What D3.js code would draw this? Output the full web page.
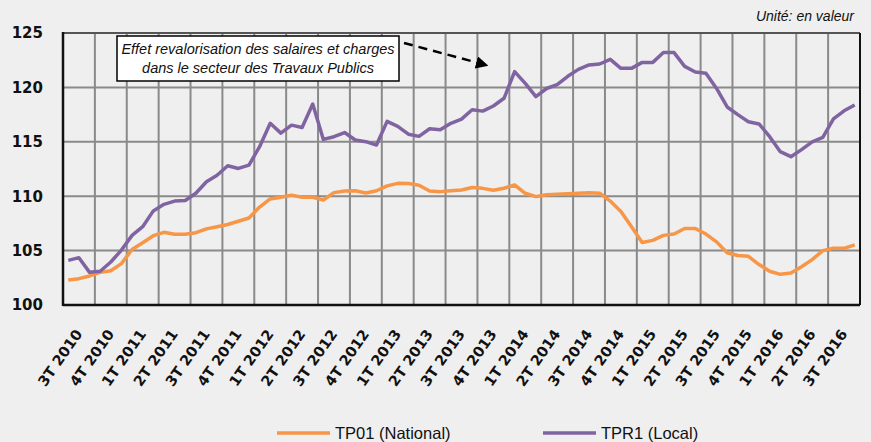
<!DOCTYPE html>
<html>
<head>
<meta charset="utf-8">
<script src="https://cdn.jsdelivr.net/npm/d3@7"></script>
<style>
  body { margin: 0; background: #efefef; }
  svg { display: block; }
  .ylab text { font-family: "DejaVu Sans", sans-serif; font-weight: bold; font-size: 15px; fill: #111; }
  .xlab { font-family: "DejaVu Sans", sans-serif; font-weight: bold; font-size: 14.5px; fill: #111; }
</style>
</head>
<body>
<svg width="871" height="442"></svg>
<script>
// quarter labels (one label every 3 months)
var quarters = ["3T 2010","4T 2010","1T 2011","2T 2011","3T 2011","4T 2011",
  "1T 2012","2T 2012","3T 2012","4T 2012","1T 2013","2T 2013","3T 2013","4T 2013",
  "1T 2014","2T 2014","3T 2014","4T 2014","1T 2015","2T 2015","3T 2015","4T 2015",
  "1T 2016","2T 2016","3T 2016"];

// monthly values
var tp01 = [102.3,102.42,102.67,103.0,103.15,103.8,105.1,105.73,106.37,106.68,
  106.5,106.5,106.65,107.0,107.2,107.4,107.7,108.0,109.0,109.75,
  109.9,110.1,109.9,109.9,109.65,110.33,110.48,110.5,110.3,110.5,
  110.95,111.18,111.16,111.0,110.48,110.42,110.5,110.57,110.8,110.72,
  110.55,110.73,111.03,110.27,109.96,110.13,110.17,110.23,110.28,110.32,
  110.27,109.55,108.6,107.2,105.75,105.94,106.4,106.53,107.03,107.03,
  106.52,105.8,104.8,104.55,104.47,103.72,103.1,102.82,102.94,103.52,
  104.17,105.0,105.21,105.21,105.53];

var tpr1 = [104.1,104.35,103.0,103.1,103.95,105.05,106.4,107.2,108.65,109.25,
  109.55,109.6,110.27,111.33,111.93,112.8,112.55,112.86,114.55,116.7,
  115.8,116.53,116.32,118.47,115.22,115.47,115.85,115.17,115.01,114.7,
  116.88,116.42,115.7,115.5,116.2,116.1,116.7,117.08,117.95,117.82,
  118.29,119.0,121.45,120.37,119.15,119.9,120.26,121.02,121.66,122.06,
  122.15,122.58,121.75,121.75,122.3,122.3,123.2,123.2,121.93,121.42,
  121.3,119.9,118.2,117.5,116.85,116.64,115.47,114.09,113.63,114.28,
  115.0,115.41,117.1,117.85,118.38];

var yTicks = [100, 105, 110, 115, 120, 125];

var svg = d3.select("svg"),
    margin = {top: 33, right: 11, bottom: 137, left: 63},
    width = +svg.attr("width") - margin.left - margin.right,
    height = +svg.attr("height") - margin.top - margin.bottom;

var months = d3.range(tp01.length);

var x = d3.scaleBand().domain(months).range([margin.left, margin.left + width]),
    y = d3.scaleLinear().domain([100, 125]).range([margin.top + height, margin.top]);

function xc(i) { return x(i) + x.bandwidth() / 2; }

// grid
var grid = svg.append("g");
grid.selectAll(".hg")
  .data(yTicks.filter(function(d) { return d > 100 && d < 125; }))
  .enter().append("line")
  .attr("x1", margin.left).attr("x2", margin.left + width)
  .attr("y1", function(d) { return y(d); }).attr("y2", function(d) { return y(d); })
  .attr("stroke", "#8a8a8a").attr("stroke-width", 2);

grid.selectAll(".vg")
  .data(d3.range(1, quarters.length))
  .enter().append("line")
  .attr("x1", function(k) { return x(k * 3); }).attr("x2", function(k) { return x(k * 3); })
  .attr("y1", y(125)).attr("y2", y(100))
  .attr("stroke", "#8a8a8a").attr("stroke-width", 2);

// frame
svg.append("line").attr("x1", margin.left).attr("x2", margin.left + width)
  .attr("y1", y(125)).attr("y2", y(125)).attr("stroke", "#555").attr("stroke-width", 2);
svg.append("line").attr("x1", margin.left + width).attr("x2", margin.left + width)
  .attr("y1", y(125)).attr("y2", y(100)).attr("stroke", "#111").attr("stroke-width", 2);
svg.append("line").attr("x1", margin.left).attr("x2", margin.left)
  .attr("y1", y(125) - 1).attr("y2", y(100) + 1).attr("stroke", "#111").attr("stroke-width", 2.5);
svg.append("line").attr("x1", margin.left).attr("x2", margin.left + width)
  .attr("y1", y(100)).attr("y2", y(100)).attr("stroke", "#111").attr("stroke-width", 2.5);

// y axis labels
var yAxis = svg.append("g")
  .attr("class", "ylab")
  .attr("transform", "translate(" + margin.left + ",0)")
  .call(d3.axisLeft(y).tickValues(yTicks).tickSize(0).tickPadding(20));
yAxis.select(".domain").remove();

// x axis labels, rotated
svg.append("g").selectAll("text")
  .data(quarters)
  .enter().append("text")
  .attr("class", "xlab")
  .attr("text-anchor", "end")
  .attr("transform", function(d, k) {
    var cx = (x(k * 3) + x(k * 3 + 2) + x.bandwidth()) / 2;
    return "translate(" + (cx + 4) + "," + (y(100) + 29) + ") rotate(-55)";
  })
  .text(function(d) { return d; });

// lines
var line = d3.line()
  .x(function(d, i) { return xc(i); })
  .y(function(d) { return y(d); });

svg.append("path").datum(tp01)
  .attr("fill", "none").attr("stroke", "#f79646").attr("stroke-width", 3.5)
  .attr("stroke-linejoin", "round").attr("d", line);

svg.append("path").datum(tpr1)
  .attr("fill", "none").attr("stroke", "#8064a2").attr("stroke-width", 3.5)
  .attr("stroke-linejoin", "round").attr("d", line);

// annotation box + dashed arrow
svg.append("defs").append("marker")
  .attr("id", "arr").attr("viewBox", "0 0 10 10")
  .attr("refX", 8).attr("refY", 5)
  .attr("markerWidth", 5).attr("markerHeight", 5)
  .attr("orient", "auto")
  .append("path").attr("d", "M0,0 L10,5 L0,10 z").attr("fill", "#000");

svg.append("line")
  .attr("x1", 404).attr("y1", 43).attr("x2", 486).attr("y2", 65)
  .attr("stroke", "#000").attr("stroke-width", 2.5)
  .attr("stroke-dasharray", "9,6")
  .attr("marker-end", "url(#arr)");

svg.append("rect")
  .attr("x", 117).attr("y", 36).attr("width", 282).attr("height", 45)
  .attr("fill", "#fff").attr("stroke", "#000").attr("stroke-width", 1.5);

var note = svg.append("text")
  .attr("font-family", "Liberation Sans, Arial, sans-serif")
  .attr("font-style", "italic").attr("font-size", 14.5)
  .attr("text-anchor", "middle").attr("fill", "#111");
note.append("tspan").attr("x", 258).attr("y", 54).text("Effet revalorisation des salaires et charges");
note.append("tspan").attr("x", 258).attr("y", 73).text("dans le secteur des Travaux Publics");

// unit
svg.append("text")
  .attr("x", 854).attr("y", 21)
  .attr("text-anchor", "end")
  .attr("font-family", "Liberation Sans, Arial, sans-serif")
  .attr("font-style", "italic").attr("font-size", 14).attr("fill", "#111")
  .text("Unité: en valeur");

// legend
var legend = [
  {name: "TP01 (National)", color: "#f79646", x: 277},
  {name: "TPR1 (Local)", color: "#8064a2", x: 543}
];
var lg = svg.append("g").selectAll("g").data(legend).enter().append("g")
  .attr("transform", function(d) { return "translate(" + d.x + ",433)"; });
lg.append("line").attr("x1", 0).attr("x2", 53).attr("y1", 0).attr("y2", 0)
  .attr("stroke", function(d) { return d.color; }).attr("stroke-width", 3.5);
lg.append("text").attr("x", 58).attr("y", 6)
  .attr("font-family", "Liberation Sans, Arial, sans-serif")
  .attr("font-size", 16.5).attr("fill", "#111")
  .text(function(d) { return d.name; });
</script>
</body>
</html>
